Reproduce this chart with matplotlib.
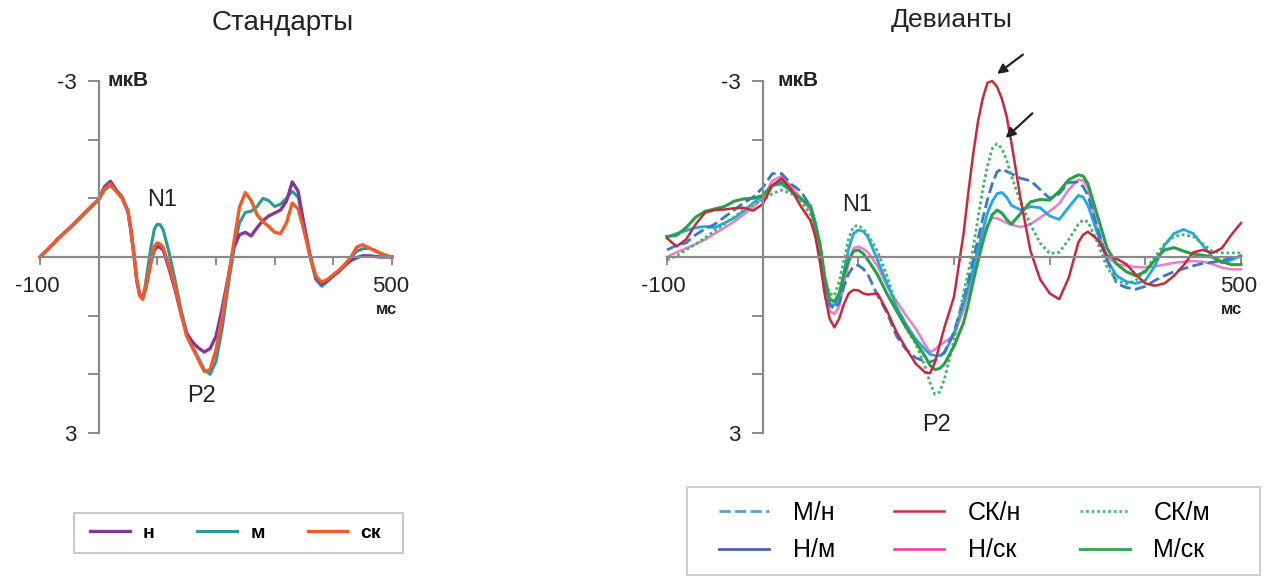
import matplotlib
matplotlib.use("Agg")
import matplotlib.pyplot as plt
from matplotlib.lines import Line2D
from matplotlib.patches import Rectangle

plt.rcParams['font.family'] = ['Liberation Sans', 'DejaVu Sans']

# time axes, ms (denser around the fast components)
times_std = (list(range(-100, 51, 10)) + list(range(55, 106, 5))
             + list(range(110, 501, 10)))
times_dev = (list(range(-100, 51, 10)) + list(range(55, 111, 5))
             + list(range(120, 171, 10)) + [175, 180, 185, 190]
             + [200, 210] + list(range(215, 261, 5))
             + [270, 280, 290, 300, 310, 320, 330, 335, 340]
             + list(range(350, 501, 10)))

# --- standards (uV, negative up) ---
std_n = [0.00, -0.10, -0.20, -0.31, -0.40, -0.49, -0.59, -0.69, -0.79, -0.89, -0.98,
         -1.20, -1.29, -1.14, -1.02, -0.78,
         -0.45, -0.05, 0.40, 0.64, 0.70, 0.55, 0.30, 0.05, -0.12, -0.18, -0.16,
         -0.12, 0.20, 0.55, 0.95, 1.30, 1.45, 1.55, 1.62, 1.56, 1.35, 0.90, 0.38,
         -0.15, -0.38, -0.42, -0.36, -0.50, -0.62, -0.70, -0.75, -0.80, -0.95, -1.28,
         -1.12, -0.55, -0.05, 0.35, 0.46, 0.40, 0.32, 0.24, 0.14, 0.06, 0.01, -0.02,
         -0.02, -0.01, 0.00, 0.00, 0.00]
std_m = [0.00, -0.10, -0.20, -0.30, -0.40, -0.49, -0.58, -0.68, -0.78, -0.88, -0.97,
         -1.14, -1.22, -1.12, -1.00, -0.76,
         -0.45, -0.05, 0.40, 0.64, 0.72, 0.45, 0.10, -0.22, -0.48, -0.56, -0.55,
         -0.46, -0.08, 0.38, 0.88, 1.30, 1.52, 1.72, 1.92, 2.00, 1.78, 1.25, 0.55,
         -0.12, -0.58, -0.76, -0.78, -0.86, -1.00, -0.96, -0.86, -0.90, -1.00, -1.12,
         -1.02, -0.55, -0.02, 0.38, 0.50, 0.42, 0.32, 0.24, 0.14, 0.02, -0.10, -0.14,
         -0.15, -0.12, -0.07, -0.03, 0.00]
std_sk = [0.00, -0.10, -0.20, -0.30, -0.40, -0.49, -0.59, -0.69, -0.79, -0.89, -0.98,
          -1.16, -1.24, -1.12, -1.00, -0.78,
          -0.45, -0.05, 0.40, 0.66, 0.72, 0.52, 0.28, 0.02, -0.18, -0.24, -0.22,
          -0.16, 0.15, 0.50, 0.95, 1.35, 1.55, 1.75, 1.95, 1.92, 1.58, 1.05, 0.42,
          -0.22, -0.85, -1.10, -0.96, -0.72, -0.60, -0.52, -0.42, -0.40, -0.58, -0.92,
          -0.82, -0.45, -0.02, 0.32, 0.43, 0.38, 0.30, 0.22, 0.12, 0.00, -0.17, -0.21,
          -0.16, -0.11, -0.06, -0.02, 0.00]

# --- deviants ---
dev_m_n = [-0.12, -0.20, -0.24, -0.38, -0.48, -0.56, -0.68, -0.80, -0.92, -1.02, -1.18,
           -1.42, -1.42, -1.24, -1.12, -0.86,
           -0.50, -0.10, 0.45, 0.82, 0.88, 0.78, 0.50, 0.28, 0.16, 0.14, 0.20, 0.30,
           0.65, 0.95, 1.35, 1.58, 1.72, 1.78,
           1.79, 1.76, 1.70, 1.62,
           1.28, 0.72, 0.40, 0.05, -0.30, -0.65, -0.98, -1.25, -1.45, -1.50, -1.46, -1.42,
           -1.34, -1.30, -1.15, -1.00, -1.08, -1.27, -1.28, -1.20, -1.05,
           -0.50, 0.05, 0.45, 0.52, 0.55, 0.50, 0.40, 0.32, 0.25, 0.20, 0.15, 0.11,
           0.09, 0.06, 0.02, -0.02]
dev_sk_n = [-0.32, -0.18, -0.30, -0.56, -0.76, -0.80, -0.81, -0.83, -0.84, -0.79, -0.90,
            -1.22, -1.34, -1.15, -0.86, -0.62,
            -0.35, 0.10, 0.65, 1.05, 1.20, 1.05, 0.80, 0.62, 0.56, 0.57, 0.62, 0.64,
            0.62, 0.92, 1.28, 1.56, 1.82, 1.97,
            1.98, 1.80, 1.50, 1.20,
            0.68, -0.40, -1.10, -1.75, -2.30, -2.70, -2.97, -3.00, -2.90, -2.70, -2.40, -1.95,
            -0.95, -0.10, 0.38, 0.62, 0.72, 0.35, -0.25, -0.38, -0.43,
            -0.30, -0.02, 0.03, 0.12, 0.30, 0.45, 0.49, 0.45, 0.32, 0.14, -0.08, -0.12,
            -0.07, -0.15, -0.38, -0.58]
dev_sk_m = [0.05, -0.02, -0.12, -0.22, -0.33, -0.45, -0.56, -0.68, -0.80, -0.90, -0.96,
            -1.08, -1.14, -1.08, -0.95, -0.72,
            -0.40, -0.05, 0.40, 0.62, 0.66, 0.42, 0.05, -0.32, -0.52, -0.54, -0.48, -0.38,
            -0.10, 0.32, 0.85, 1.22, 1.48, 1.88,
            2.15, 2.34, 2.30, 2.08,
            1.42, 0.62, 0.25, -0.15, -0.65, -1.15, -1.55, -1.85, -1.93, -1.85, -1.65, -1.38,
            -0.92, -0.55, -0.24, -0.06, -0.08, -0.30, -0.56, -0.63, -0.60,
            -0.25, 0.18, 0.40, 0.46, 0.40, 0.22, 0.00, -0.22, -0.35, -0.38, -0.35, -0.22,
            -0.10, -0.07, -0.07, -0.07]
dev_n_m = [-0.34, -0.40, -0.45, -0.50, -0.52, -0.50, -0.58, -0.66, -0.78, -0.92, -1.05,
           -1.22, -1.24, -1.12, -0.98, -0.88,
           -0.60, -0.20, 0.40, 0.80, 0.82, 0.68, 0.25, -0.15, -0.40, -0.46, -0.44, -0.34,
           0.05, 0.45, 0.85, 1.15, 1.40, 1.58,
           1.66, 1.68, 1.68, 1.64,
           1.30, 0.80, 0.50, 0.20, -0.12, -0.45, -0.75, -0.95, -1.08, -1.10, -1.02, -0.88,
           -0.80, -0.86, -0.84, -0.70, -0.64, -0.85, -1.05, -1.02, -0.88,
           -0.40, 0.05, 0.32, 0.42, 0.45, 0.40, 0.15, -0.20, -0.40, -0.47, -0.40, -0.20,
           0.00, 0.10, 0.05, -0.02]
dev_n_sk = [0.00, -0.08, -0.15, -0.22, -0.30, -0.40, -0.50, -0.60, -0.72, -0.85, -1.00,
            -1.30, -1.38, -1.20, -1.00, -0.80,
            -0.50, -0.15, 0.45, 0.92, 0.97, 0.85, 0.45, 0.10, -0.15, -0.18, -0.14, -0.08,
            0.15, 0.50, 0.75, 1.00, 1.22, 1.50,
            1.62, 1.58, 1.50, 1.45,
            1.34, 0.90, 0.62, 0.30, -0.05, -0.35, -0.55, -0.67, -0.66, -0.62, -0.58, -0.55,
            -0.51, -0.56, -0.67, -0.78, -0.91, -1.15, -1.32, -1.30, -1.18,
            -0.45, 0.00, 0.12, 0.15, 0.17, 0.18, 0.16, 0.13, 0.10, 0.08, 0.07, 0.08,
            0.12, 0.18, 0.21, 0.21]
dev_m_sk = [-0.35, -0.37, -0.50, -0.68, -0.78, -0.82, -0.86, -0.95, -0.99, -1.00, -1.05,
            -1.22, -1.28, -1.12, -1.00, -0.85,
            -0.55, -0.22, 0.35, 0.72, 0.76, 0.62, 0.30, 0.05, -0.10, -0.12, -0.06, 0.05,
            0.30, 0.63, 0.92, 1.20, 1.45, 1.70,
            1.85, 1.92, 1.90, 1.82,
            1.52, 1.12, 0.80, 0.42, 0.08, -0.25, -0.52, -0.72, -0.80, -0.75, -0.64, -0.56,
            -0.75, -0.94, -0.98, -0.97, -1.12, -1.32, -1.40, -1.38, -1.25,
            -0.70, -0.15, 0.12, 0.25, 0.32, 0.25, 0.05, -0.12, -0.16, -0.10, -0.05, -0.03,
            0.00, 0.08, 0.13, 0.13]

AXIS_GREY = '#8a8a8a'
TEXT = '#222222'
W, H = 1268, 576


def erp_axes(ax):
    ax.set_xlim(-100, 500)
    ax.set_ylim(3, -3)
    ax.patch.set_alpha(0)
    for s in ['top', 'right']:
        ax.spines[s].set_visible(False)
    for s in ['left', 'bottom']:
        ax.spines[s].set_position(('data', 0))
        ax.spines[s].set_color(AXIS_GREY)
        ax.spines[s].set_linewidth(1.6)
    ax.set_yticks([-3, -2, -1, 1, 2, 3])
    ax.set_yticklabels(['-3', '', '', '', '', '3'])
    ax.tick_params(axis='y', direction='out', length=8, width=1.4,
                   color=AXIS_GREY, labelsize=16, pad=8, labelcolor=TEXT)
    ax.set_xticks([-100, 100, 200, 300, 400, 500])
    ax.set_xticklabels([])
    ax.tick_params(axis='x', direction='out', length=6, width=1.4, color=AXIS_GREY)
    ax.text(-104, 0.5, '-100', fontsize=16, ha='center', va='center', color=TEXT)
    ax.text(497, 0.5, '500', fontsize=16, ha='center', va='center', color=TEXT)
    ax.text(490, 0.9, 'мс', fontsize=12, fontweight='bold', ha='center', va='center', color=TEXT)
    ax.text(15, -3.0, 'мкВ', fontsize=15, fontweight='semibold', ha='left', va='center', color=TEXT)


def legend_box(x0, y0, x1, y1, color):
    # frame drawn in pixel units of the figure
    fig.add_artist(Rectangle((x0 / W, 1 - y1 / H), (x1 - x0) / W, (y1 - y0) / H,
                             transform=fig.transFigure, fill=False,
                             edgecolor=color, linewidth=1.5))


fig = plt.figure(figsize=(W / 100, H / 100), dpi=100)

# standards panel
ax1 = fig.add_axes([40 / W, 1 - 433 / H, 352 / W, 352 / H])
erp_axes(ax1)
l_m, = ax1.plot(times_std, std_m, color='#2a9a94', lw=2.2, clip_on=False)
l_n, = ax1.plot(times_std, std_n, color='#84379a', lw=2.4, clip_on=False)
l_sk, = ax1.plot(times_std, std_sk, color='#f45a28', lw=2.4, clip_on=False)
ax1.text(108, -0.97, 'N1', fontsize=17, ha='center', va='center', color=TEXT)
ax1.text(176, 2.37, 'P2', fontsize=17, ha='center', va='center', color=TEXT)
fig.text(283 / W, 1 - 23 / H, 'Стандарты', fontsize=20, ha='center', va='center', color=TEXT)

fig.legend([l_n, l_m, l_sk], ['н', 'м', 'ск'], loc='center left',
           bbox_to_anchor=(90 / W, 1 - 533 / H), ncol=3, frameon=False,
           prop={'size': 14, 'weight': 'bold'},
           handlelength=2.05, handletextpad=0.67, columnspacing=2.2,
           borderpad=0, borderaxespad=0)
legend_box(74, 513, 403, 553, '#c8c8c8')

# deviants panel
ax2 = fig.add_axes([667 / W, 1 - 433 / H, 574 / W, 352 / H])
erp_axes(ax2)
# (label, values, line style, legend colour)
styles = [
    ('Н/ск', dev_n_sk, dict(color='#f07ac4', lw=1.8, ls='-'), '#f0369e'),
    ('Н/м', dev_n_m, dict(color='#1ea8ec', lw=2.0, ls='-'), '#4a62b6'),
    ('М/н', dev_m_n, dict(color='#3a78c4', lw=2.0, ls=(0, (4, 1.6))), '#5a9ed6'),
    ('СК/м', dev_sk_m, dict(color='#3db866', lw=2.0, ls=(0, (1, 1))), '#4cc47a'),
    ('М/ск', dev_m_sk, dict(color='#27a048', lw=2.2, ls='-'), '#3aaa5c'),
    ('СК/н', dev_sk_n, dict(color='#c9283c', lw=1.8, ls='-'), '#c8303e'),
]
for name, vals, st, _ in styles:
    ax2.plot(times_dev, vals, clip_on=False, solid_joinstyle='round', **st)

ax2.text(99, -0.88, 'N1', fontsize=17, ha='center', va='center', color=TEXT)
ax2.text(182, 2.86, 'P2', fontsize=17, ha='center', va='center', color=TEXT)
fig.text(952 / W, 1 - 20 / H, 'Девианты', fontsize=19, ha='center', va='center', color=TEXT)

# arrows at the late negative peaks
for tip, tail in [((245, -3.12), (272, -3.45)), ((254, -2.03), (282, -2.45))]:
    ax2.annotate('', xy=tip, xytext=tail, annotation_clip=False,
                 arrowprops=dict(arrowstyle='-|>', color=TEXT, lw=1.6,
                                 mutation_scale=14, shrinkA=0, shrinkB=0))

order = ['М/н', 'Н/м', 'СК/н', 'Н/ск', 'СК/м', 'М/ск']
by_name = {s[0]: s for s in styles}
handles = []
for name in order:
    st = dict(by_name[name][2])
    st['color'] = by_name[name][3]
    handles.append(Line2D([], [], **st))
fig.legend(handles, order, loc='center left', bbox_to_anchor=(719 / W, 1 - 531.5 / H),
           ncol=3, frameon=False, prop={'size': 18},
           handlelength=2.0, handletextpad=0.95, columnspacing=2.35,
           borderpad=0, borderaxespad=0, labelspacing=0.55)
# legend box runs past the bottom edge
legend_box(687, 487, 1260, 575, '#cfcfcf')

fig.savefig('out.png', dpi=100)
